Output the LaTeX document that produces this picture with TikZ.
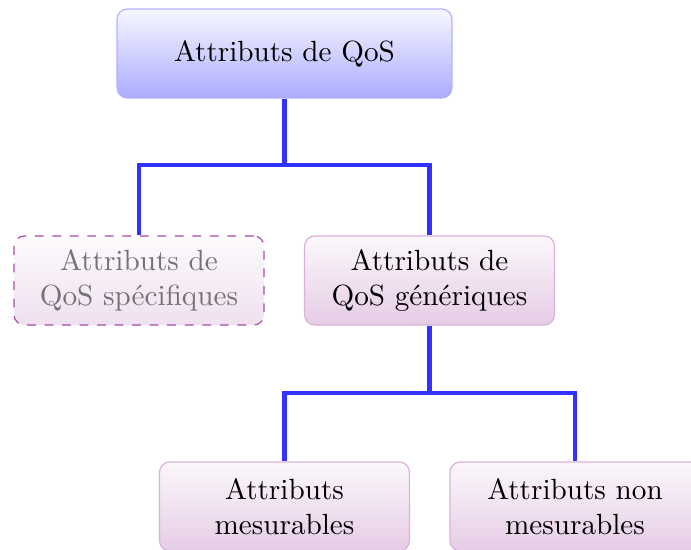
\documentclass[tikz,border=0pt]{standalone}
\usetikzlibrary{calc}
\begin{document}
\begin{tikzpicture}[x=0.3425pt,y=-0.3425pt,
  box/.style={rounded corners=3.5pt, align=center, font=\normalsize,
    minimum width=85.6pt, minimum height=30.5pt, inner sep=2pt},
  rootbox/.style={box, draw=blue!30, top color=blue!3, bottom color=blue!33,
    minimum width=114.7pt},
  catbox/.style={box, draw=violet!30, top color=violet!3, bottom color=violet!20},
  ghostbox/.style={box, draw=violet!70, dashed, top color=violet!2, bottom color=violet!12,
    text=black!55},
  link/.style={draw=blue!80, line width=1.4pt}]
  \clip (0,0) rectangle (691,549);
  \node[rootbox]  (root) at (284.5,53.5)  {Attributs de QoS};
  \node[ghostbox] (spec) at (139,280.5)   {Attributs de\\QoS spécifiques};
  \node[catbox]   (gen)  at (429.5,280.5) {Attributs de\\QoS génériques};
  \node[catbox]   (mes)  at (284.5,506.5) {Attributs\\mesurables};
  \node[catbox]   (nmes) at (575,506.5)   {Attributs non\\mesurables};
  \coordinate (j1) at (284.5,165);
  \coordinate (j2) at (429.5,393);
  \path[link] (root) -- (j1) -| (spec.north);
  \path[link] (j1) -| (gen.north);
  \path[link] (gen) -- (j2) -| (mes.north);
  \path[link] (j2) -| (nmes.north);
\end{tikzpicture}
\end{document}
